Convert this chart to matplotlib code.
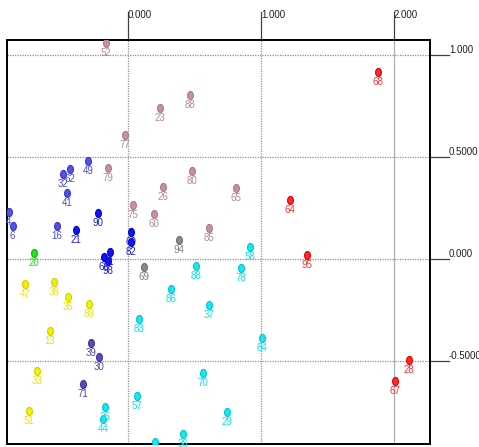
import matplotlib
matplotlib.use("Agg")
import matplotlib.pyplot as plt
from matplotlib.path import Path
import matplotlib.transforms as mtransforms

plt.rcParams['font.family'] = ['Liberation Sans', 'DejaVu Sans']

# Point groups: labels, x, y
mauve_labels = ["52", "88", "23", "77", "79", "80", "26", "65", "75", "60", "85"]
mauve_x = [-0.168, 0.466, 0.241, -0.023, -0.148, 0.479, 0.265, 0.812, 0.035, 0.195, 0.611]
mauve_y = [1.060, 0.806, 0.742, 0.609, 0.446, 0.434, 0.355, 0.350, 0.265, 0.220, 0.154]

gray_labels = ["94", "69"]
gray_x = [0.383, 0.120]
gray_y = [0.093, -0.038]

red_labels = ["68", "64", "95", "28", "67"]
red_x = [1.877, 1.218, 1.348, 2.113, 2.010]
red_y = [0.917, 0.290, 0.018, -0.496, -0.600]

blue_labels = ["49", "62", "32", "41", "4", "6", "16"]
blue_x = [-0.301, -0.436, -0.491, -0.461, -0.895, -0.867, -0.536]
blue_y = [0.482, 0.441, 0.416, 0.326, 0.232, 0.164, 0.164]

navy_labels = ["21", "90", "60", "82", "31", "66", "98"]
navy_x = [-0.391, -0.229, 0.020, 0.023, -0.139, -0.178, -0.150]
navy_y = [0.143, 0.225, 0.135, 0.084, 0.033, 0.008, -0.010]

green_labels = ["20"]
green_x = [-0.709]
green_y = [0.028]

yellow_labels = ["47", "38", "35", "89", "13", "33", "51"]
yellow_x = [-0.774, -0.554, -0.453, -0.295, -0.586, -0.686, -0.742]
yellow_y = [-0.124, -0.112, -0.188, -0.223, -0.356, -0.550, -0.747]

slate_labels = ["39", "30", "71"]
slate_x = [-0.280, -0.216, -0.336]
slate_y = [-0.414, -0.480, -0.614]

cyan_labels = ["58", "88", "78", "86", "37", "83", "84", "70", "57", "26", "44", "29", "36", "45"]
cyan_x = [0.917, 0.511, 0.847, 0.326, 0.611, 0.084, 1.005, 0.562, 0.066, -0.173, -0.190, 0.747, 0.415, 0.203]
cyan_y = [0.057, -0.034, -0.046, -0.149, -0.224, -0.296, -0.390, -0.559, -0.673, -0.726, -0.788, -0.750, -0.860, -0.897]

x_ticks = [0.0, 1.0, 2.0]
x_tick_labels = ["0.000", "1.000", "2.000"]
y_ticks = [1.0, 0.5, 0.0, -0.5]
y_tick_labels = ["1.000", "0.5000", "0.000", "-0.5000"]

groups = [
    (mauve_labels, mauve_x, mauve_y, "#c4949e", "#a87a86", "#b48a94"),
    (gray_labels, gray_x, gray_y, "#8a8a8a", "#6e6e6e", "#7c7c7c"),
    (red_labels, red_x, red_y, "#ff2a2a", "#e00000", "#ff3030"),
    (blue_labels, blue_x, blue_y, "#5252e6", "#3636c8", "#4a4ae0"),
    (navy_labels, navy_x, navy_y, "#1414f0", "#0000c8", "#1818e8"),
    (green_labels, green_x, green_y, "#22e622", "#10b010", "#20dd20"),
    (yellow_labels, yellow_x, yellow_y, "#f2f200", "#d0d000", "#e8e800"),
    (slate_labels, slate_x, slate_y, "#5a4cb8", "#3c3096", "#5044b0"),
    (cyan_labels, cyan_x, cyan_y, "#18e8f0", "#00c4d0", "#10e0ea"),
]

W, H, DPI = 479, 447, 100
fig = plt.figure(figsize=(W / DPI, H / DPI), dpi=DPI)
left_px, right_px, top_px, bot_px = 7, 430, 40, 444
ax = fig.add_axes([left_px / W, (H - bot_px) / H, (right_px - left_px) / W, (bot_px - top_px) / H])
ax.set_xlim(-0.910, 2.271)
ax.set_ylim(-0.909, 1.076)

for side in ax.spines.values():
    side.set_color("black")
    side.set_linewidth(1.4)
ax.set_xticks([])
ax.set_yticks([])

# reference lines
for xv in x_ticks:
    if xv == 2.0:
        ax.axvline(xv, color="#b0b0b0", lw=0.9, zorder=0)
    else:
        ax.axvline(xv, color="#909090", lw=0.9, ls=(0, (1, 1)), zorder=0)
for yv in y_ticks:
    ax.axhline(yv, color="#909090", lw=0.9, ls=(0, (1, 1)), zorder=0)

# tick marks outside the frame: above (x) and to the right (y)
xtrans = mtransforms.blended_transform_factory(ax.transData, ax.transAxes)
ytrans = mtransforms.blended_transform_factory(ax.transAxes, ax.transData)
ax_h_px = bot_px - top_px
ax_w_px = right_px - left_px
for xv, lab in zip(x_ticks, x_tick_labels):
    ax.plot([xv, xv], [1.0, 1.0 + 28 / ax_h_px], color="#404040", lw=0.9,
            transform=xtrans, clip_on=False)
    ax.text(xv, 1.0 + 20 / ax_h_px, lab, transform=xtrans, fontsize=7,
            ha="left", va="bottom", color="#202020")
for yv, lab in zip(y_ticks, y_tick_labels):
    ax.plot([1.0, 1.0 + 19 / ax_w_px], [yv, yv], color="#404040", lw=0.9,
            transform=ytrans, clip_on=False)
    ax.text(1.0 + 19 / ax_w_px, yv, lab, transform=ytrans, fontsize=7,
            ha="left", va="bottom", color="#202020")

# tall elliptical marker
circ = Path.unit_circle()
ellipse = Path(circ.vertices * [0.72, 1.0], circ.codes)

for labels, xs, ys, fc, ec, tc in groups:
    ax.scatter(xs, ys, marker=ellipse, s=34, facecolor=fc, edgecolor=ec,
               linewidths=0.8, zorder=3)
    for lab, xv, yv in zip(labels, xs, ys):
        ax.annotate(lab, (xv, yv), xytext=(0, -10), textcoords="offset pixels",
                    ha="center", va="center", fontsize=7, color=tc, zorder=4)

fig.savefig("out.png", dpi=DPI)
